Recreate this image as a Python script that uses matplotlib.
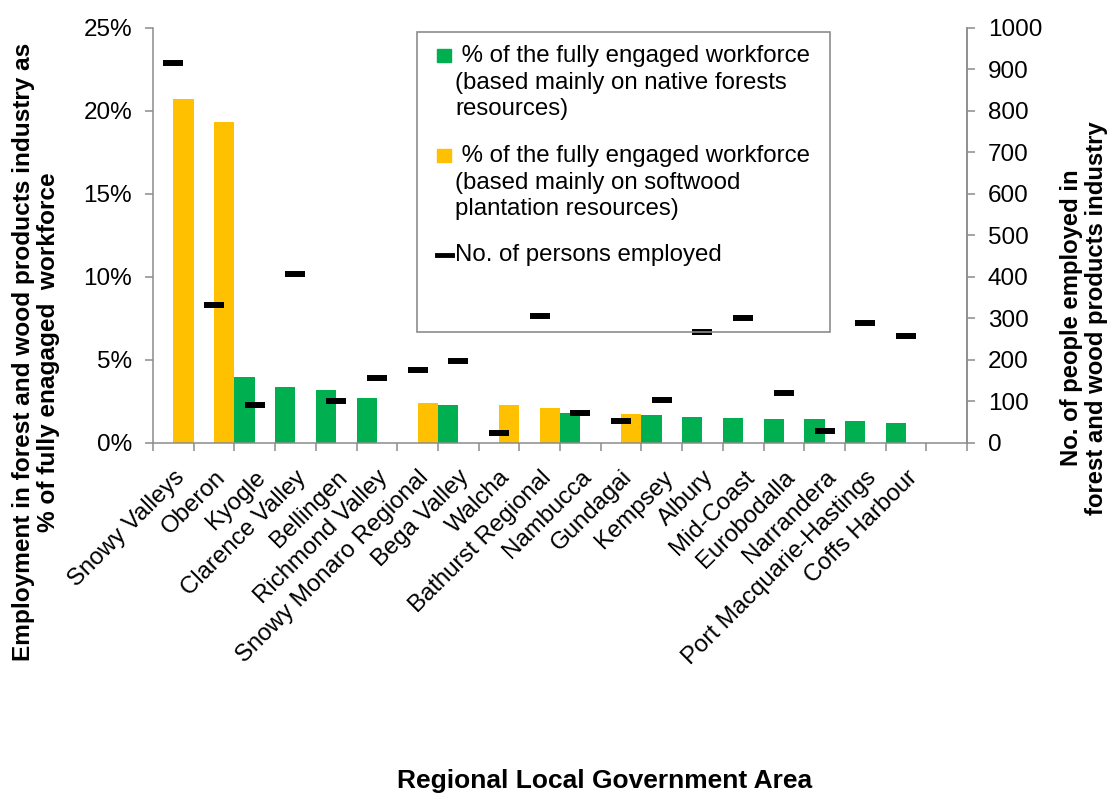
import numpy as np
import matplotlib
matplotlib.use('Agg')
import matplotlib.pyplot as plt
from matplotlib import rcParams
from matplotlib.patches import Rectangle

rcParams['font.family'] = ['Liberation Sans', 'DejaVu Sans']

GREEN = '#00B050'
ORANGE = '#FFC000'
GRAY = '#8c8c8c'

# data
areas = ['Snowy Valleys', 'Oberon', 'Kyogle', 'Clarence Valley', 'Bellingen',
         'Richmond Valley', 'Snowy Monaro Regional', 'Bega Valley', 'Walcha',
         'Bathurst Regional', 'Nambucca', 'Gundagai', 'Kempsey', 'Albury',
         'Mid-Coast', 'Eurobodalla', 'Narrandera', 'Port Macquarie-Hastings',
         'Coffs Harbour']
native_pct = [0, 0, 3.98, 3.34, 3.20, 2.71, 0, 2.29, 0, 0, 1.77, 0, 1.65,
              1.53, 1.49, 1.45, 1.45, 1.33, 1.20]
softwood_pct = [20.69, 19.34, 0, 0, 0, 0, 2.37, 0, 2.27, 2.07, 0, 1.71, 0,
                0, 0, 0, 0, 0, 0]
persons = [914, 332, 91, 406, 100, 157, 174, 197, 23, 306, 72, 52, 104,
           266, 300, 120, 27, 288, 258]
pct_ticks = [0, 5, 10, 15, 20, 25]
people_ticks = list(range(0, 1001, 100))

W, H = 1108, 794


def fx(px):
    return px / W


def fy(py):
    return 1 - py / H


fig = plt.figure(figsize=(11.08, 7.94), dpi=100)
ax = fig.add_axes([fx(153), fy(442.7), fx(967 - 153), (442.7 - 27.7) / H])

x = np.arange(len(areas))
ax.bar(x - 0.25, native_pct, width=0.5, color=GREEN)
ax.bar(x + 0.25, softwood_pct, width=0.5, color=ORANGE)
ax.set_xlim(-0.5, len(areas) + 0.5)
ax.set_ylim(0, 25)
ax.set_yticks(pct_ticks)
ax.set_yticklabels(['{}%'.format(v) for v in pct_ticks])
ax.set_xticks(x)
ax.set_xticklabels(areas, rotation=45, ha='right', va='top',
                   rotation_mode='anchor')
ax.set_xticks(np.arange(-0.5, len(areas) + 1), minor=True)
ax.tick_params(axis='x', which='major', length=0, pad=17, labelsize=17.3)
ax.tick_params(axis='x', which='minor', length=6, width=1.1, color=GRAY)
ax.tick_params(axis='y', length=6, width=1.1, color=GRAY, pad=9,
               labelsize=17.5)
ax.spines['top'].set_visible(False)
for s in ['left', 'right', 'bottom']:
    ax.spines[s].set_color(GRAY)
    ax.spines[s].set_linewidth(1.1)

# persons employed on the right axis
ax2 = ax.twinx()
ax2.plot(x, persons, linestyle='none', marker='_', ms=15, mew=4.3,
         color='black')
ax2.set_ylim(0, 1000)
ax2.set_yticks(people_ticks)
ax2.tick_params(axis='y', length=6, width=1.1, color=GRAY, pad=9,
                labelsize=17.5)
for s in ['top', 'left', 'bottom']:
    ax2.spines[s].set_visible(False)
ax2.spines['right'].set_color(GRAY)
ax2.spines['right'].set_linewidth(1.1)

# axis titles
fig.text(fx(36), fy(352),
         'Employment in forest and wood products industry as\n'
         '% of fully enagaged  workforce',
         rotation=90, ha='center', va='center', fontsize=17.6,
         fontweight='bold', linespacing=1.1)
fig.text(fx(1084), fy(318),
         'No. of people employed in\nforest and wood products industry',
         rotation=90, ha='center', va='center', fontsize=17.2,
         fontweight='bold', linespacing=1.1)
fig.text(fx(605), fy(781), 'Regional Local Government Area',
         ha='center', va='center', fontsize=19, fontweight='bold')

# legend
fig.add_artist(Rectangle((fx(417), fy(332)), fx(830 - 417), (332 - 32) / H,
                         transform=fig.transFigure, fill=False,
                         edgecolor=GRAY, linewidth=1.2))
legend_items = [
    (GREEN, ' % of the fully engaged workforce\n(based mainly on native forests\nresources)', 55),
    (ORANGE, ' % of the fully engaged workforce\n(based mainly on softwood\nplantation resources)', 155),
]
for col, label, yc in legend_items:
    fig.add_artist(Rectangle((fx(437), fy(yc + 6.5)), fx(14), 13 / H,
                             transform=fig.transFigure, color=col))
    fig.text(fx(455), fy(yc - 10), label, ha='left', va='top', fontsize=17.3,
             linespacing=1.27)
fig.add_artist(plt.Line2D([fx(437), fx(452)], [fy(255), fy(255)],
                          transform=fig.transFigure, color='black', lw=3.5))
fig.text(fx(455), fy(255), 'No. of persons employed', ha='left',
         va='center', fontsize=17.3)

fig.savefig('out.png', dpi=100)
